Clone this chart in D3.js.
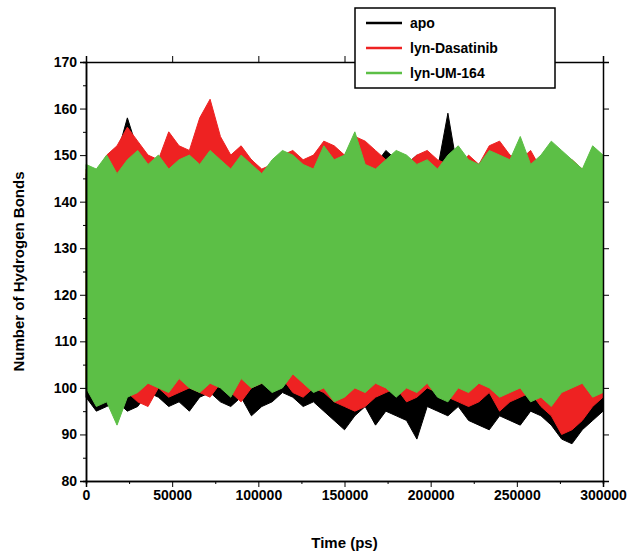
<!DOCTYPE html><html><head><script src="https://cdn.jsdelivr.net/npm/d3@7"></script>
<style>body{margin:0;background:#fff}text{font-family:Arial,"Liberation Sans",sans-serif;font-weight:bold}</style></head><body>
<script>
const binStep=6000;
const seriesNames=["apo","lyn-Dasatinib","lyn-UM-164"];
const colors=["#000000","#ee2222","#5cbf46"];
const apoHi=[146,145,148,150,158,151,148,147,149,150,148,149,150,147,148,150,149,146,147,150,149,147,148,150,148,149,147,150,148,151,149,148,150,149,147,159,146,149,148,151,150,148,147,150,148,149,150,149,146,147,148];
const apoLo=[98,95,96,97,95,96,99,98,96,97,95,98,99,97,96,98,94,96,97,99,98,96,97,95,93,91,94,96,92,95,94,93,89,96,95,94,96,93,92,91,94,93,92,95,94,92,89,88,91,93,95];
const dasHi=[147,146,150,152,156,153,150,149,155,152,151,158,162,154,150,152,149,147,148,150,151,149,150,153,152,150,154,153,151,149,147,148,150,151,149,148,147,150,148,152,153,150,149,151,147,148,150,149,147,148,149];
const dasLo=[101,99,98,97,99,97,96,100,98,99,100,99,98,101,99,97,100,101,100,102,99,98,100,99,97,96,95,96,98,99,100,97,98,100,99,98,97,96,97,99,95,97,98,99,96,94,90,91,93,96,98];
const umHi=[148,147,150,146,149,151,148,150,147,149,150,148,151,149,147,150,148,146,149,151,150,148,147,152,149,150,155,148,147,149,151,150,148,149,147,150,152,149,148,151,150,149,154,148,150,153,151,149,147,152,150];
const umLo=[100,96,97,92,98,99,101,100,99,102,100,99,101,100,98,102,100,101,99,100,103,101,99,100,97,98,100,99,101,100,98,100,99,101,98,97,100,99,101,100,98,99,100,97,98,96,99,100,101,98,99];
const xTicks=[0,50000,100000,150000,200000,250000,300000];
const yTicks=[80,90,100,110,120,130,140,150,160,170];
const W=633,H=554,m={l:86,r:30,t:62,b:73};
const svg=d3.select("body").append("svg").attr("width",W).attr("height",H);
const x=d3.scaleLinear().domain([0,300000]).range([m.l,W-m.r]);
const y=d3.scaleLinear().domain([80,170]).range([H-m.b,m.t]);
const data=[[apoHi,apoLo],[dasHi,dasLo],[umHi,umLo]];
data.forEach(([hi,lo],k)=>{
  const pts=hi.map((h,i)=>({t:i*binStep,h,l:lo[i]}));
  svg.append("path").datum(pts).attr("fill",colors[k]).attr("stroke",colors[k]).attr("stroke-width",1)
    .attr("d",d3.area().x(d=>x(d.t)).y0(d=>y(d.l)).y1(d=>y(d.h)));
});
const g=svg.append("g");
g.append("g").attr("transform",`translate(0,${H-m.b})`).call(d3.axisBottom(x).tickValues(xTicks).tickSize(6).tickFormat(d3.format("d")));
g.append("g").attr("transform",`translate(${m.l},0)`).call(d3.axisLeft(y).tickValues(yTicks).tickSize(6));
g.append("g").attr("transform",`translate(0,${H-m.b})`).call(d3.axisBottom(x).tickValues(d3.range(25000,300000,50000)).tickSize(3).tickFormat(""));
g.append("g").attr("transform",`translate(${m.l},0)`).call(d3.axisLeft(y).tickValues(d3.range(85,170,10)).tickSize(3).tickFormat(""));
g.append("g").attr("transform",`translate(0,${m.t})`).call(d3.axisTop(x).tickValues(xTicks).tickSize(6).tickFormat(""));
g.append("g").attr("transform",`translate(${W-m.r},0)`).call(d3.axisRight(y).tickValues(yTicks).tickSize(6).tickFormat(""));
g.selectAll(".domain").attr("stroke","#000").attr("stroke-width",1.5);
g.selectAll("text").attr("font-size",14).attr("fill","#000");
svg.append("text").attr("x",(m.l+W-m.r)/2).attr("y",548).attr("text-anchor","middle").attr("font-size",15).text("Time (ps)");
svg.append("text").attr("transform",`translate(24,${(m.t+H-m.b)/2}) rotate(-90)`).attr("text-anchor","middle").attr("font-size",15).text("Number of Hydrogen Bonds");
const lg=svg.append("g");
lg.append("rect").attr("x",355).attr("y",8).attr("width",200).attr("height",80).attr("fill","#fff").attr("stroke","#000").attr("stroke-width",1.5);
seriesNames.forEach((n,i)=>{const yy=23+i*25;
  lg.append("line").attr("x1",366).attr("x2",402).attr("y1",yy).attr("y2",yy).attr("stroke",colors[i]).attr("stroke-width",2.5);
  lg.append("text").attr("x",410).attr("y",yy+5).attr("font-size",14).text(n);});
</script></body></html>
